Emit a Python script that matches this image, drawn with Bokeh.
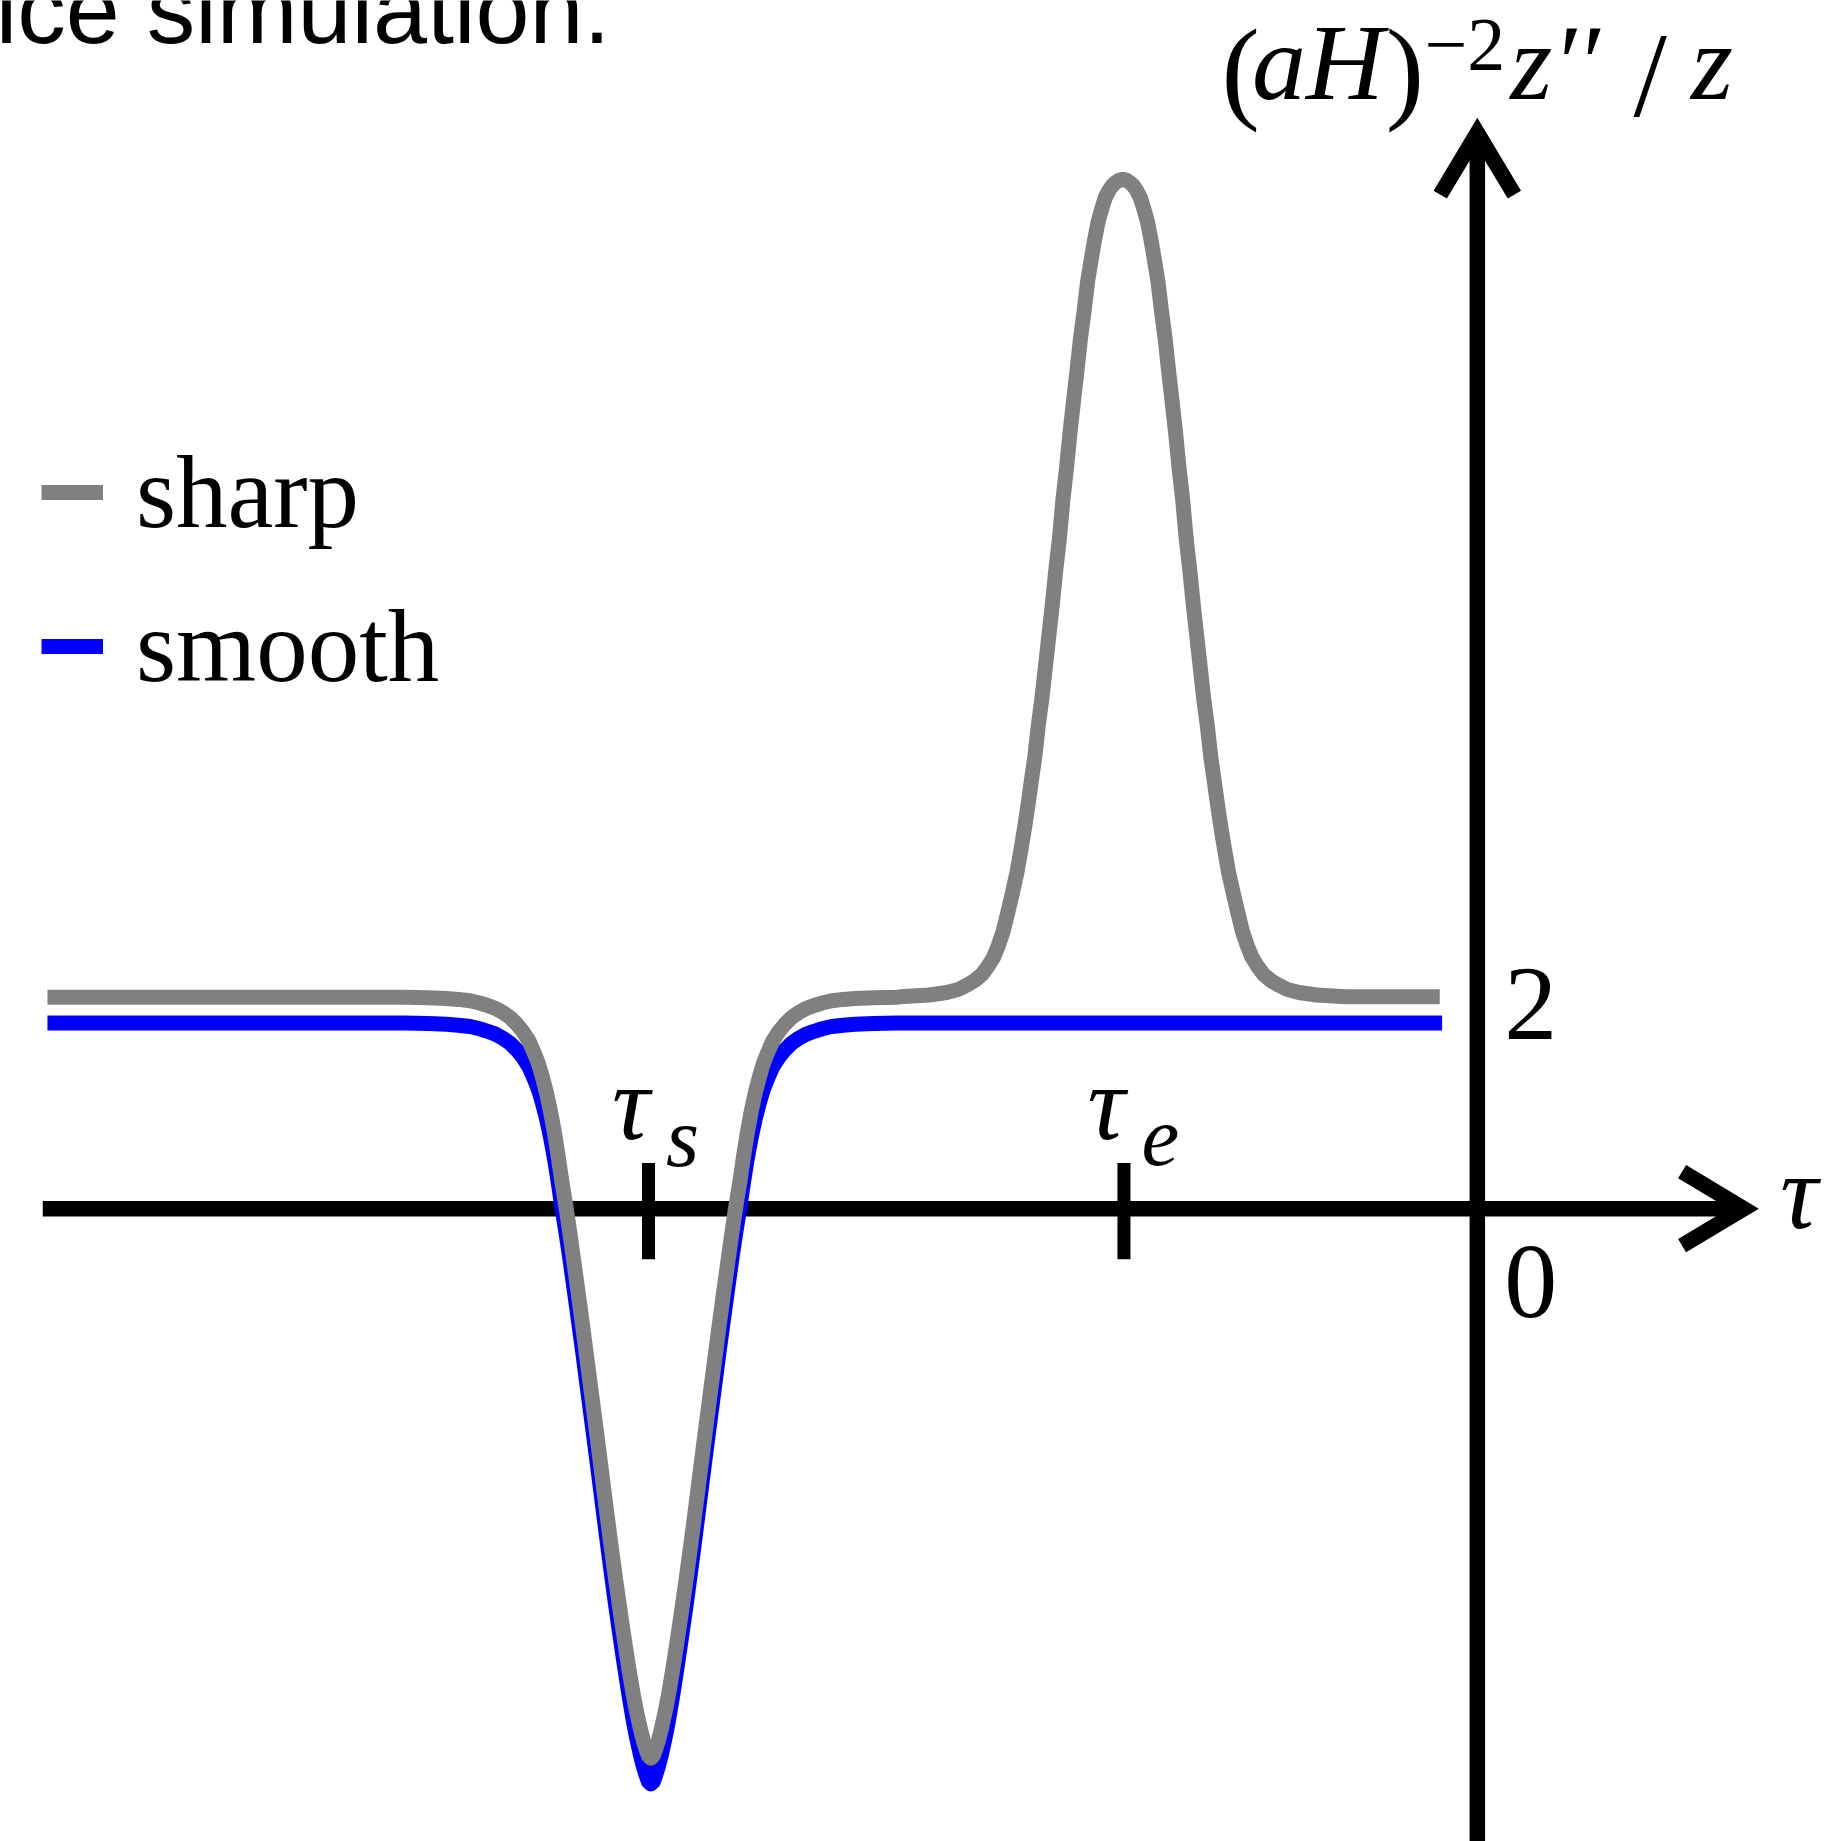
from bokeh.plotting import figure
from bokeh.models import Range1d, Legend, LegendItem
from bokeh.core.properties import value
from bokeh.embed import file_html
from bokeh.resources import INLINE
import math

# Conformal time tau (vertical axis at tau = 0) and (aH)^-2 z''/z for the sharp transition
sharp_tau = [-12.18,
             -9.14, -8.94, -8.78, -8.68, -8.58, -8.50, -8.43, -8.36, -8.30, -8.24,
             -8.18, -8.13, -8.08, -8.04, -8.00, -7.965, -7.93, -7.895, -7.86, -7.83,
             -7.80, -7.765, -7.73, -7.695, -7.66, -7.62, -7.58, -7.54, -7.50, -7.46,
             -7.42, -7.38, -7.34, -7.30, -7.26, -7.225, -7.19, -7.16, -7.13, -7.105,
             -7.08, -7.06, -7.04,
             -7.02, -7.00, -6.975, -6.95, -6.92, -6.89, -6.855, -6.82, -6.78, -6.74,
             -6.70, -6.66, -6.62, -6.58, -6.54, -6.50, -6.46, -6.42, -6.385, -6.35,
             -6.315, -6.28, -6.25, -6.22, -6.185, -6.15, -6.115, -6.08, -6.04, -6.00,
             -5.95, -5.90, -5.84, -5.78, -5.72, -5.65, -5.58, -5.50, -5.40, -5.30,
             -5.14, -4.94,
             -4.92, -4.67, -4.52, -4.42, -4.34, -4.28, -4.22, -4.17, -4.12, -4.08,
             -4.04, -4.00, -3.96, -3.92, -3.89, -3.86, -3.83, -3.80, -3.77, -3.74,
             -3.71, -3.68, -3.65, -3.62, -3.59, -3.56, -3.53, -3.50, -3.47, -3.44,
             -3.41, -3.38, -3.35, -3.32, -3.29, -3.26, -3.23, -3.20, -3.17, -3.14,
             -3.11, -3.08, -3.05, -3.02,
             -2.99, -2.96, -2.93, -2.90, -2.87, -2.84, -2.81, -2.78, -2.75, -2.72,
             -2.69, -2.66, -2.63, -2.60, -2.57, -2.54, -2.51, -2.48, -2.45, -2.42,
             -2.39, -2.36, -2.33, -2.30, -2.27, -2.24, -2.21, -2.18, -2.15, -2.12,
             -2.08, -2.04, -2.00, -1.96, -1.92, -1.87, -1.82, -1.76, -1.70, -1.62,
             -1.52, -1.37, -1.12, -0.32]
sharp_val = [2.000,
             2.000, 1.996, 1.989, 1.980, 1.967, 1.946, 1.922, 1.893, 1.856, 1.810,
             1.744, 1.675, 1.590, 1.490, 1.380, 1.250, 1.100, 0.920, 0.710, 0.500,
             0.270, 0.030, -0.230, -0.510, -0.790, -1.120, -1.460, -1.800, -2.140, -2.490,
             -2.840, -3.180, -3.510, -3.820, -4.120, -4.370, -4.600, -4.770, -4.920, -5.030,
             -5.120, -5.180, -5.200,
             -5.180, -5.120, -5.030, -4.920, -4.770, -4.600, -4.370, -4.120, -3.820, -3.510,
             -3.180, -2.840, -2.490, -2.140, -1.800, -1.460, -1.120, -0.790, -0.510, -0.230,
             0.030, 0.270, 0.500, 0.710, 0.920, 1.100, 1.250, 1.380, 1.490, 1.590,
             1.675, 1.744, 1.810, 1.856, 1.893, 1.922, 1.946, 1.967, 1.980, 1.989,
             1.996, 2.000,
             2.005, 2.022, 2.045, 2.075, 2.120, 2.160, 2.215, 2.290, 2.380, 2.490,
             2.620, 2.800, 2.990, 3.190, 3.380, 3.580, 3.800, 4.040, 4.270, 4.570,
             4.820, 5.120, 5.420, 5.720, 6.050, 6.340, 6.710, 7.000, 7.340, 7.640,
             7.930, 8.240, 8.490, 8.770, 8.975, 9.170, 9.340, 9.460, 9.565, 9.632,
             9.680, 9.712, 9.732, 9.740,
             9.732, 9.712, 9.680, 9.632, 9.565, 9.460, 9.340, 9.170, 8.975, 8.770,
             8.490, 8.240, 7.930, 7.640, 7.340, 7.000, 6.710, 6.340, 6.050, 5.720,
             5.420, 5.120, 4.820, 4.570, 4.270, 4.040, 3.800, 3.580, 3.380, 3.190,
             2.990, 2.800, 2.620, 2.490, 2.380, 2.290, 2.215, 2.160, 2.120, 2.075,
             2.045, 2.022, 2.005, 2.005]

# ... and for the smooth transition
smooth_tau = [-12.18,
              -9.14, -8.94, -8.78, -8.68, -8.58, -8.50, -8.43, -8.36, -8.30, -8.24,
              -8.18, -8.13, -8.08, -8.04, -8.00, -7.965, -7.93, -7.895, -7.86, -7.83,
              -7.80, -7.765, -7.73, -7.695, -7.66, -7.62, -7.58, -7.54, -7.50, -7.46,
              -7.42, -7.38, -7.34, -7.30, -7.26, -7.225, -7.19, -7.16, -7.13, -7.105,
              -7.08, -7.06, -7.04,
              -7.02, -7.00, -6.975, -6.95, -6.92, -6.89, -6.855, -6.82, -6.78, -6.74,
              -6.70, -6.66, -6.62, -6.58, -6.54, -6.50, -6.46, -6.42, -6.385, -6.35,
              -6.315, -6.28, -6.25, -6.22, -6.185, -6.15, -6.115, -6.08, -6.04, -6.00,
              -5.95, -5.90, -5.84, -5.78, -5.72, -5.65, -5.58, -5.50, -5.40, -5.30,
              -5.14, -4.94, -0.30]
smooth_val = [1.756,
              1.756, 1.752, 1.745, 1.736, 1.723, 1.702, 1.678, 1.649, 1.612, 1.566,
              1.500, 1.431, 1.346, 1.246, 1.136, 1.006, 0.856, 0.676, 0.466, 0.256,
              0.026, -0.214, -0.474, -0.754, -1.034, -1.364, -1.704, -2.044, -2.384, -2.734,
              -3.084, -3.424, -3.754, -4.064, -4.364, -4.614, -4.844, -5.014, -5.164, -5.274,
              -5.364, -5.424, -5.444,
              -5.424, -5.364, -5.274, -5.164, -5.014, -4.844, -4.614, -4.364, -4.064, -3.754,
              -3.424, -3.084, -2.734, -2.384, -2.044, -1.704, -1.364, -1.034, -0.754, -0.474,
              -0.214, 0.026, 0.256, 0.466, 0.676, 0.856, 1.006, 1.136, 1.246, 1.346,
              1.431, 1.500, 1.566, 1.612, 1.649, 1.678, 1.702, 1.723, 1.736, 1.745,
              1.752, 1.756, 1.756]

tau_ticks = [-7.06, -3.01]          # tau_s, tau_e
tau_names = ["s", "e"]
y_ticks = [0, 2]

W, H = 1829, 1841
X0, X1 = -12.58, 3.00
Y0, Y1 = -5.989, 11.433
px_x = W / (X1 - X0)
px_y = H / (Y1 - Y0)

p = figure(width=W, height=H, x_range=Range1d(X0, X1), y_range=Range1d(Y0, Y1),
           x_axis_type=None, y_axis_type=None, toolbar_location=None,
           output_backend="svg", min_border=0, outline_line_color=None,
           background_fill_color="white", border_fill_color="white")
p.grid.visible = False

SERIF = value("Liberation Serif")
AX_W = 15.5
MID = 0.3375   # baseline sits this many em below the middle of the Liberation text box


def label(x, y, s, size, style="normal", font=SERIF):
    """Draw text whose alphabetic baseline lies at data height y."""
    p.text(x=[x], y=[y + MID * size / px_y], text=[s], text_font=font,
           text_font_style=style, text_font_size=f"{size}px",
           text_baseline="middle", text_align="left", text_color="black")


# caption fragment at the top
label(-12.62, 11.04, "ice simulation.", 97, font=value("Liberation Sans"))

# hand-drawn axes with open arrow heads
x_left, x_tip = -12.22, 2.27
y_tip = 10.18
arm, half = 72.0, math.radians(31)
p.line([x_left, x_tip], [0, 0], line_color="black", line_width=AX_W)
hx, hy = arm * math.cos(half) / px_x, arm * math.sin(half) / px_y
p.line([x_tip - hx, x_tip, x_tip - hx], [hy, 0, -hy], line_color="black",
       line_width=AX_W, line_join="miter")
p.line([0, 0], [Y0, y_tip], line_color="black", line_width=AX_W)
vx, vy = arm * math.sin(half) / px_x, arm * math.cos(half) / px_y
p.line([-vx, 0, vx], [y_tip - vy, y_tip, y_tip - vy], line_color="black",
       line_width=AX_W, line_join="miter")

# tau_s and tau_e tick marks with their names
p.segment(x0=tau_ticks, y0=[0.433] * 2, x1=tau_ticks, y1=[-0.478] * 2,
          line_color="black", line_width=13)
for t, nm in zip(tau_ticks, tau_names):
    label(t - 0.31, 0.656, "τ", 105, "italic")
    label(t + 0.15, 0.411, nm, 85, "italic")

# tick values on the vertical axis
label(0.23, 1.60, str(y_ticks[1]), 106)
label(0.23, -1.033, str(y_ticks[0]), 106)

# axis names
label(2.58, -0.178, "τ", 105, "italic")
label(-2.18, 10.41, "(", 115)
label(-1.92, 10.50, "aH", 108, "italic")
label(-0.78, 10.41, ")", 115)
label(-0.45, 10.77, "−2", 76)
label(0.28, 10.50, "z′′", 108, "italic")
label(1.33, 10.34, "/", 120)
label(1.82, 10.50, "z", 108, "italic")

# the two curves
r_smooth = p.line(smooth_tau, smooth_val, line_color="#0000ff", line_width=15, line_join="round")
r_sharp = p.line(sharp_tau, sharp_val, line_color="#808080", line_width=15, line_join="round")

legend = Legend(items=[LegendItem(label="sharp", renderers=[r_sharp]),
                       LegendItem(label="smooth", renderers=[r_smooth])],
                location=(41, 1135), orientation="vertical", padding=0, margin=0,
                spacing=34, glyph_width=62, glyph_height=120, label_standoff=33,
                label_text_font="Liberation Serif", label_text_font_size="103px",
                label_text_color="black", border_line_alpha=0, background_fill_alpha=0)
p.add_layout(legend)

open("out.html", "w").write(file_html(p, INLINE))
